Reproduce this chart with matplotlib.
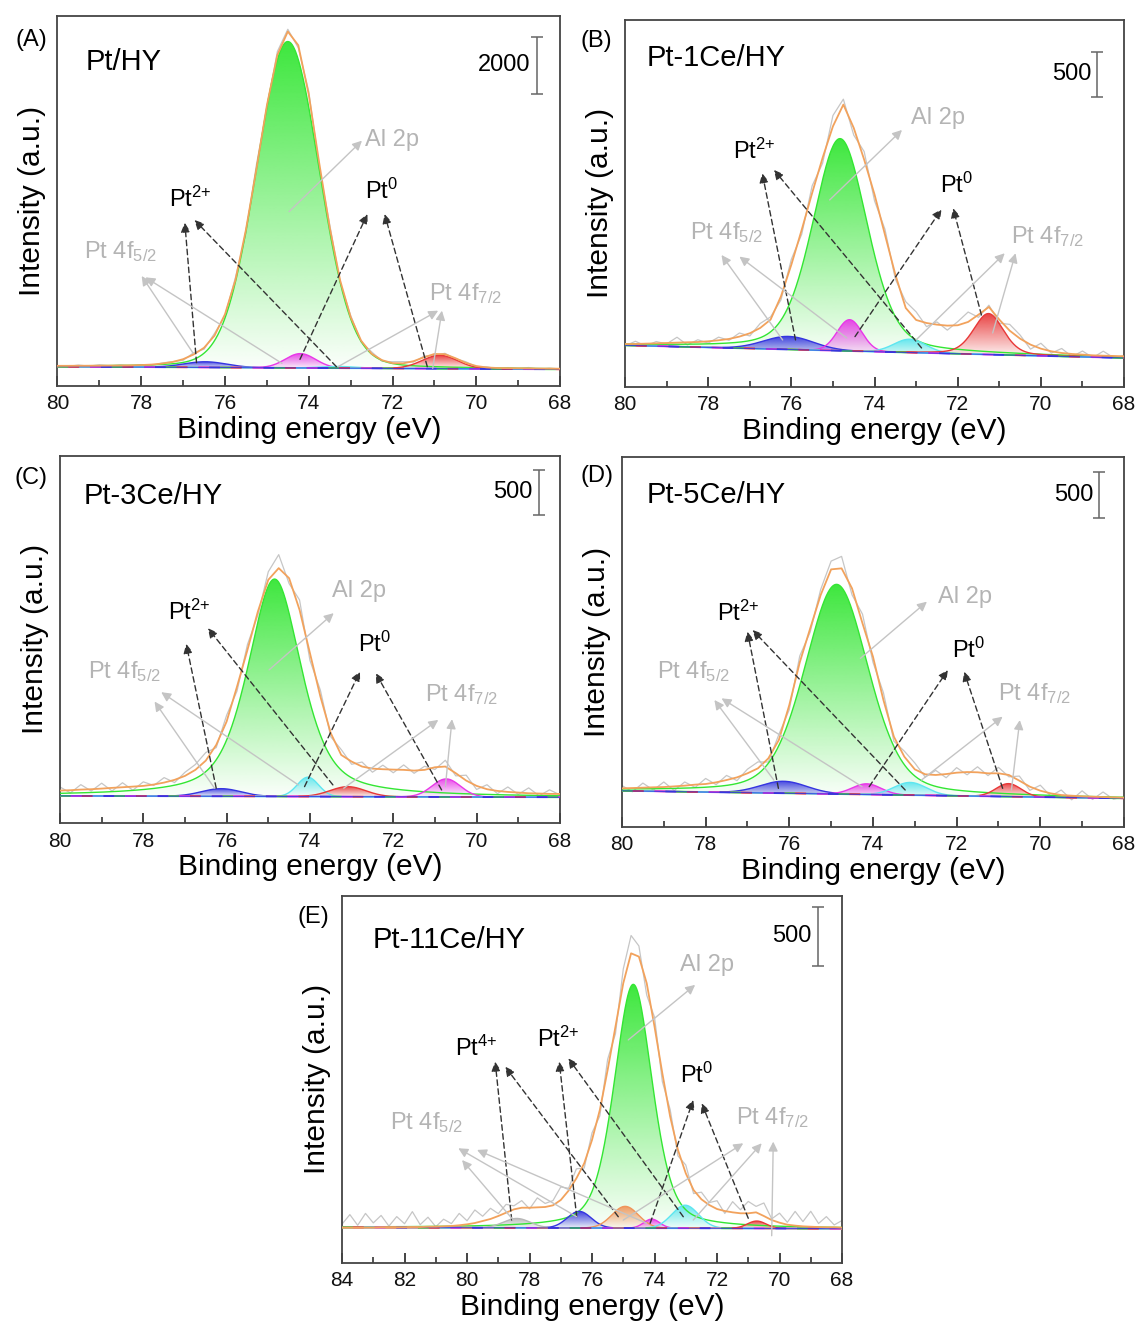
import numpy as np
import matplotlib
matplotlib.use('Agg')
import matplotlib.pyplot as plt
import matplotlib.colors as mcolors
from matplotlib.ticker import MultipleLocator

plt.rcParams['font.family'] = ['Liberation Sans', 'DejaVu Sans']
plt.rcParams['mathtext.fontset'] = 'custom'
plt.rcParams['mathtext.rm'] = 'Liberation Sans'
plt.rcParams['mathtext.it'] = 'Liberation Sans:italic'
plt.rcParams['mathtext.bf'] = 'Liberation Sans:bold'

# binding energy sampling (eV)
energy_ad = np.linspace(80, 68, 49)
energy_e = np.linspace(84, 68, 65)

# ---- (A) Pt/HY ----
env_a = [704, 704, 706, 707, 710, 713, 715, 721, 731, 748, 783, 839, 936, 1099, 1334, 1757,
         2505, 3701, 5455, 7569, 9789, 11549, 12367, 11888, 10165, 7778, 5532, 3681, 2405,
         1583, 1123, 901, 796, 789, 865, 1000, 1118, 1110, 972, 807, 697, 647, 628, 622, 619,
         615, 610, 607, 603]
raw_a = [714, 684, 731, 692, 740, 703, 735, 696, 746, 718, 803, 849, 896, 1159, 1284, 1837,
         2445, 3791, 5335, 7719, 9689, 11669, 12447, 11798, 10275, 7638, 5632, 3611, 2465,
         1533, 1193, 861, 846, 849, 835, 1040, 1068, 1140, 952, 847, 667, 672, 593, 642, 604,
         645, 585, 622, 593]
bg_a = [675, 582]
center_a = [74.5, 76.47, 74.2, 73.3, 70.87]
height_a = [11386, 198, 500, 58, 465]
fwhm_a = [1.78, 1.2, 0.85, 1.0, 1.0]
lorentz_a = [0.1, 0.0, 0.0, 0.0, 0.0]

# ---- (B) Pt-1Ce/HY ----
env_b = [474, 474, 478, 481, 485, 489, 493, 496, 504, 515, 530, 556, 593, 652, 745, 1004,
         1356, 1745, 2152, 2541, 2893, 3134, 2874, 2522, 2134, 1689, 1245, 874, 741, 707,
         689, 678, 682, 719, 800, 885, 745, 622, 533, 467, 422, 393, 374, 363, 356, 348, 344,
         341, 337]
raw_b = [454, 504, 453, 501, 475, 549, 463, 521, 484, 550, 515, 596, 563, 702, 775, 964,
         1416, 1695, 2232, 2481, 3013, 3194, 2794, 2612, 2064, 1749, 1195, 944, 831, 667,
         719, 628, 722, 829, 770, 905, 705, 692, 573, 417, 482, 373, 424, 333, 396, 323, 394,
         321, 347]
bg_b = [459, 319]
center_b = [74.83, 76.07, 74.6, 73.15, 71.26]
height_b = [2357, 145, 348, 148, 455]
fwhm_b = [1.55, 1.4, 0.7, 0.9, 0.85]
lorentz_b = [0.3, 0.0, 0.0, 0.0, 0.3]

# ---- (C) Pt-3Ce/HY ----
env_c = [363, 367, 374, 378, 385, 393, 400, 407, 415, 430, 452, 482, 526, 593, 696, 870,
         1130, 1519, 1926, 2352, 2704, 2834, 2722, 2371, 1889, 1408, 1000, 759, 685, 630,
         607, 600, 596, 593, 585, 593, 622, 630, 556, 474, 415, 378, 359, 348, 341, 333, 330,
         326, 326]
raw_c = [403, 337, 429, 358, 445, 358, 450, 367, 460, 420, 507, 452, 566, 653, 786, 840,
         1200, 1469, 1986, 2312, 2794, 2984, 2662, 2481, 1809, 1478, 960, 819, 655, 680,
         567, 645, 561, 648, 555, 633, 597, 700, 526, 534, 375, 428, 329, 403, 321, 393, 305,
         371, 316]
bg_c = [304, 289]
center_c = [74.85, 76.13, 74.05, 73.09, 70.73]
height_c = [2415, 85, 215, 111, 200]
fwhm_c = [1.52, 1.1, 0.6, 1.0, 0.8]
lorentz_c = [0.55, 0.0, 0.0, 0.0, 0.0]

# ---- (D) Pt-5Ce/HY ----
env_d = [417, 420, 424, 428, 431, 438, 446, 457, 464, 482, 507, 536, 580, 634, 743, 942,
         1322, 1786, 2156, 2518, 2797, 2808, 2590, 2210, 1848, 1377, 978, 761, 623, 569,
         562, 572, 587, 594, 591, 580, 580, 562, 500, 435, 391, 362, 344, 337, 330, 326, 322,
         319, 315]
raw_d = [447, 380, 474, 398, 486, 393, 486, 427, 524, 457, 557, 501, 625, 704, 703, 1002,
         1272, 1856, 2116, 2578, 2887, 2938, 2520, 2310, 1788, 1457, 928, 821, 693, 539,
         612, 532, 642, 564, 651, 555, 645, 542, 550, 395, 451, 332, 399, 292, 390, 296, 377,
         299, 325]
bg_d = [390, 308]
center_d = [74.87, 76.14, 74.15, 73.11, 70.76]
height_d = [2279, 130, 116, 138, 141]
fwhm_d = [1.8, 1.3, 0.8, 0.9, 0.7]
lorentz_d = [0.3, 0.0, 0.0, 0.0, 0.0]

# ---- (E) Pt-11Ce/HY ----
env_e = [298, 298, 298, 298, 298, 301, 301, 301, 301, 303, 303, 306, 306, 309, 312, 318,
         326, 337, 354, 371, 396, 424, 452, 466, 466, 469, 472, 486, 531, 610, 714, 840,
         1037, 1290, 1627, 1992, 2358, 2610, 2582, 2358, 1992, 1599, 1234, 953, 756, 615,
         537, 489, 455, 438, 427, 419, 419, 427, 396, 362, 340, 323, 315, 309, 306, 303, 301,
         301, 298]
raw_e = [328, 408, 318, 418, 338, 401, 311, 391, 331, 433, 323, 386, 306, 369, 332, 418,
         356, 447, 394, 461, 416, 494, 482, 526, 456, 549, 502, 526, 641, 630, 794, 800,
         1097, 1240, 1717, 1932, 2478, 2760, 2672, 2258, 2072, 1529, 1294, 903, 826, 585,
         597, 509, 525, 418, 517, 449, 519, 477, 506, 372, 420, 343, 435, 349, 436, 333, 391,
         321, 358]
bg_e = [300, 290]
center_e = [74.68, 78.41, 76.41, 74.94, 74.09, 73.02, 70.73]
height_e = [2054, 79, 140, 183, 76, 194, 62]
fwhm_e = [1.44, 1.0, 0.9, 1.0, 0.6, 1.0, 0.7]
lorentz_e = [0.4, 0.0, 0.0, 0.0, 0.0, 0.0, 0.0]

GREEN = '#33e633'
BLUE = '#3535e0'
MAGENTA = '#e838e8'
CYAN = '#5ee6f0'
RED = '#e83838'
ORANGE_C = '#f0955a'
GREY_C = '#b8b8b8'
ENV_COL = '#f2a25c'
RAW_COL = '#c6c6c6'
LIGHT = '#b4b4b4'
DARK = '#333333'

colors_std = [GREEN, BLUE, MAGENTA, CYAN, RED]
colors_c = [GREEN, BLUE, CYAN, RED, MAGENTA]
colors_e = [GREEN, GREY_C, BLUE, ORANGE_C, MAGENTA, CYAN, RED]


def pvoigt(x, c, a, w, eta):
    u = (x - c) / w
    return a * ((1 - eta) * np.exp(-4 * np.log(2) * u ** 2) + eta / (1 + 4 * u ** 2))


def grad_fill(ax, x, lo, hi, color, z):
    poly = ax.fill_between(x, lo, hi, facecolor='none', edgecolor='none', zorder=z)
    r, g, b = mcolors.to_rgb(color)
    n = 256
    img = np.ones((n, 1, 4))
    img[:, 0, 0] = r
    img[:, 0, 1] = g
    img[:, 0, 2] = b
    img[:, 0, 3] = np.linspace(0.02, 0.95, n)
    im = ax.imshow(img, extent=[x.min(), x.max(), lo.min(), hi.max()], origin='lower',
                   aspect='auto', zorder=z, interpolation='bilinear')
    im.set_clip_path(poly.get_paths()[0], transform=ax.transData)


def panel(rect, energy, env, raw, bg, centers, heights, widths, lors, cols, ytop):
    ax = fig.add_axes(rect)
    xf = np.linspace(energy[0], energy[-1], 900)
    bgf = np.linspace(bg[0], bg[1], 900)
    ax.plot(energy, raw, color=RAW_COL, lw=0.9, zorder=1)
    for i in range(len(centers)):
        pk = pvoigt(xf, centers[i], heights[i], widths[i], lors[i])
        grad_fill(ax, xf, bgf, bgf + pk, cols[i], 2 + 0.01 * i)
        ax.plot(xf, bgf + pk, color=cols[i], lw=1.0, zorder=3)
    k = len(centers)
    for i in range(k):
        ax.plot(xf, bgf, color=cols[i], lw=1.3, zorder=3,
                linestyle=(6 * i, (6, 6 * (k - 1))))
    ax.plot(xf, bgf, color=BLUE, lw=0.6, zorder=3)
    ax.plot(energy, env, color=ENV_COL, lw=1.3, zorder=4)
    ax.set_xlim(energy[0], energy[-1])
    ax.set_ylim(0, ytop)
    ax.set_yticks([])
    ax.xaxis.set_major_locator(MultipleLocator(2))
    ax.xaxis.set_minor_locator(MultipleLocator(1))
    ax.tick_params(axis='x', which='major', direction='in', length=7, width=1.1,
                   labelsize=15, pad=6, colors='#111111')
    ax.tick_params(axis='x', which='minor', direction='in', length=4, width=1.1, colors='#222222')
    for s in ax.spines.values():
        s.set_color('#444444')
        s.set_linewidth(1.3)
    ax.set_xlabel('Binding energy (eV)', fontsize=21.5, labelpad=2)
    ax.set_ylabel('Intensity (a.u.)', fontsize=21.5, labelpad=8)
    return ax


def decorate(ax, title, labels, dashed, grey, bar, bar_text):
    ax.text(title[0], title[1], title[2], fontsize=21, ha='left', va='baseline', zorder=6)
    for x, y, s, c in labels:
        ax.text(x, y, s, fontsize=17, color=c, ha='left', va='baseline', zorder=6)
    for t, h in dashed:
        ax.annotate('', xy=h, xytext=t, zorder=5,
                    arrowprops=dict(arrowstyle='-|>', color=DARK, lw=1.0, ls=(0, (4, 2.5)),
                                    mutation_scale=14, shrinkA=0, shrinkB=0))
    for t, h in grey:
        ax.annotate('', xy=h, xytext=t, zorder=5,
                    arrowprops=dict(arrowstyle='-|>', color='#c4c4c4', lw=1.0,
                                    mutation_scale=14, shrinkA=0, shrinkB=0))
    bx, y0, y1 = bar
    ax.errorbar([bx], [(y0 + y1) / 2], yerr=[(y1 - y0) / 2], color='#666666', lw=1.1,
                capsize=4, capthick=1.1, zorder=6)
    ax.text(bar_text[0], (y0 + y1) / 2, bar_text[1], fontsize=17, ha='right', va='center', zorder=6)


fig = plt.figure(figsize=(11.36, 13.21), dpi=100)

P2 = r'Pt$^{2{+}}$'
P4 = r'Pt$^{4{+}}$'
P0 = r'Pt$^{0}$'
F52 = r'Pt 4f$_{5/2}$'
F72 = r'Pt 4f$_{7/2}$'

# (A)
ax = panel([0.0506, 0.7078, 0.4424, 0.2801], energy_ad, env_a, raw_a, bg_a, center_a,
           height_a, fwhm_a, lorentz_a, colors_std, 12910)
decorate(ax, (79.33, 11025, 'Pt/HY'),
         [(77.33, 6257, P2, 'black'), (72.65, 6513, P0, 'black'), (79.36, 4454, F52, LIGHT),
          (71.13, 3001, F72, LIGHT), (72.65, 8385, 'Al 2p', LIGHT)],
         [((76.68, 814), (76.96, 5699)), ((73.34, 675), (76.73, 5792)),
          ((74.21, 930), (72.60, 6001)), ((71.17, 675), (72.19, 6001))],
         [((76.77, 1163), (77.99, 3838)), ((74.64, 791), (77.90, 3791)),
          ((73.30, 675), (70.91, 2628)), ((71.04, 616), (70.82, 2628)),
          ((74.47, 6082), (72.73, 8560))],
         (68.55, 10188, 12188), (68.71, '2000'))

# (B)
ax = panel([0.5502, 0.7073, 0.4393, 0.2776], energy_ad, env_b, raw_b, bg_b, center_b,
           height_b, fwhm_b, lorentz_b, colors_std, 4074)
decorate(ax, (79.48, 3567, 'Pt-1Ce/HY'),
         [(77.40, 2526, P2, 'black'), (72.43, 2156, P0, 'black'), (78.44, 1637, F52, LIGHT),
          (70.72, 1593, F72, LIGHT), (73.12, 2919, 'Al 2p', LIGHT)],
         [((75.90, 519), (76.70, 2371)), ((72.87, 430), (76.42, 2408)),
          ((74.47, 556), (72.39, 1971)), ((71.43, 796), (72.11, 1982))],
         [((76.21, 519), (77.68, 1463)), ((74.67, 541), (77.25, 1445)),
          ((73.0, 520), (70.87, 1482)), ((71.16, 596), (70.61, 1482)),
          ((75.08, 2074), (73.34, 2852))],
         (68.65, 3222, 3722), (68.78, '500'))

# (C)
ax = panel([0.0528, 0.3768, 0.4401, 0.2783], energy_ad, env_c, raw_c, bg_c, center_c,
           height_c, fwhm_c, lorentz_c, colors_c, 4084)
decorate(ax, (79.43, 3548, 'Pt-3Ce/HY'),
         [(77.41, 2259, P2, 'black'), (72.84, 1908, P0, 'black'), (79.32, 1611, F52, LIGHT),
          (71.25, 1352, F72, LIGHT), (73.48, 2511, 'Al 2p', LIGHT)],
         [((76.25, 389), (76.97, 1993)), ((73.45, 426), (76.45, 2167)),
          ((74.13, 407), (72.80, 1685)), ((70.84, 370), (72.42, 1667))],
         [((76.29, 389), (77.73, 1352)), ((74.28, 426), (77.57, 1456)),
          ((73.19, 389), (70.92, 1148)), ((70.75, 407), (70.59, 1156)),
          ((74.98, 1704), (73.43, 2334))],
         (68.50, 3426, 3926), (68.65, '500'))

# (D)
ax = panel([0.5475, 0.3742, 0.4419, 0.2801], energy_ad, env_d, raw_d, bg_d, center_d,
           height_d, fwhm_d, lorentz_d, colors_std, 4022)
decorate(ax, (79.40, 3514, 'Pt-5Ce/HY'),
         [(77.74, 2239, P2, 'black'), (72.11, 1830, P0, 'black'), (79.17, 1612, F52, LIGHT),
          (71.00, 1377, F72, LIGHT), (72.45, 2427, 'Al 2p', LIGHT)],
         [((76.26, 417), (77.00, 2120)), ((73.23, 399), (76.88, 2138)),
          ((74.09, 435), (72.21, 1703)), ((70.90, 417), (71.82, 1685))],
         [((76.37, 507), (77.79, 1377)), ((74.26, 435), (77.62, 1395)),
          ((72.84, 507), (70.90, 1196)), ((70.69, 399), (70.49, 1159)),
          ((74.30, 1830), (72.71, 2446))],
         (68.60, 3351, 3851), (68.73, '500'))

# (E)
ax = panel([0.3011, 0.0439, 0.4401, 0.2781], energy_e, env_e, raw_e, bg_e, center_e,
           height_e, fwhm_e, lorentz_e, colors_e, 3096)
decorate(ax, (83.01, 2658, 'Pt-11Ce/HY'),
         [(80.38, 1745, P4, 'black'), (77.77, 1818, P2, 'black'), (73.18, 1515, P0, 'black'),
          (82.46, 1127, F52, LIGHT), (71.39, 1169, F72, LIGHT), (73.18, 2464, 'Al 2p', LIGHT)],
         [((78.57, 362), (79.10, 1697)), ((75.16, 390), (78.78, 1655)),
          ((76.49, 390), (77.05, 1697)), ((73.08, 390), (76.76, 1725)),
          ((74.14, 335), (72.76, 1374)), ((71.0, 377), (72.49, 1346))],
         [((78.52, 362), (80.16, 868)), ((76.49, 390), (80.28, 967)),
          ((74.25, 335), (79.68, 953)), ((75.0, 362), (71.16, 1009)),
          ((72.76, 362), (70.57, 1009)), ((70.25, 230), (70.20, 1023)),
          ((74.84, 1880), (72.70, 2344))],
         (68.77, 2504, 3004), (68.97, '500'))

for lab, x, y in [('(A)', 0.0273, 0.9697), ('(B)', 0.5246, 0.9690), ('(C)', 0.0273, 0.6380),
                  ('(D)', 0.5255, 0.6400), ('(E)', 0.2755, 0.3060)]:
    fig.text(x, y, lab, fontsize=17, ha='center', va='center')

fig.savefig('out.png', dpi=100)
